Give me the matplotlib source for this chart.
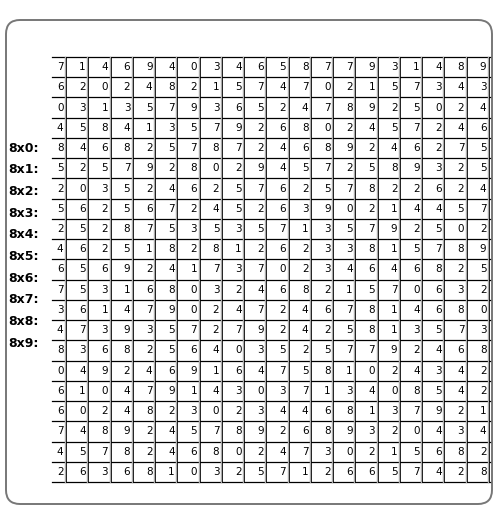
import matplotlib.pyplot as plt
from matplotlib.patches import FancyBboxPatch

# digit grid, row by row
grid_rows = [
    [7, 1, 4, 6, 9, 4, 0, 3, 4, 6, 5, 8, 7, 7, 9, 3, 1, 4, 8, 9],
    [6, 2, 0, 2, 4, 8, 2, 1, 5, 7, 4, 7, 0, 2, 1, 5, 7, 3, 4, 3],
    [0, 3, 1, 3, 5, 7, 9, 3, 6, 5, 2, 4, 7, 8, 9, 2, 5, 0, 2, 4],
    [4, 5, 8, 4, 1, 3, 5, 7, 9, 2, 6, 8, 0, 2, 4, 5, 7, 2, 4, 6],
    [8, 4, 6, 8, 2, 5, 7, 8, 7, 2, 4, 6, 8, 9, 2, 4, 6, 2, 7, 5],
    [5, 2, 5, 7, 9, 2, 8, 0, 2, 9, 4, 5, 7, 2, 5, 8, 9, 3, 2, 5],
    [2, 0, 3, 5, 2, 4, 6, 2, 5, 7, 6, 2, 5, 7, 8, 2, 2, 6, 2, 4],
    [5, 6, 2, 5, 6, 7, 2, 4, 5, 2, 6, 3, 9, 0, 2, 1, 4, 4, 5, 7],
    [2, 5, 2, 8, 7, 5, 3, 5, 3, 5, 7, 1, 3, 5, 7, 9, 2, 5, 0, 2],
    [4, 6, 2, 5, 1, 8, 2, 8, 1, 2, 6, 2, 3, 3, 8, 1, 5, 7, 8, 9],
    [6, 5, 6, 9, 2, 4, 1, 7, 3, 7, 0, 2, 3, 4, 6, 4, 6, 8, 2, 5],
    [7, 5, 3, 1, 6, 8, 0, 3, 2, 4, 6, 8, 2, 1, 5, 7, 0, 6, 3, 2],
    [3, 6, 1, 4, 7, 9, 0, 2, 4, 7, 2, 4, 6, 7, 8, 1, 4, 6, 8, 0],
    [4, 7, 3, 9, 3, 5, 7, 2, 7, 9, 2, 4, 2, 5, 8, 1, 3, 5, 7, 3],
    [8, 3, 6, 8, 2, 5, 6, 4, 0, 3, 5, 2, 5, 7, 7, 9, 2, 4, 6, 8],
    [0, 4, 9, 2, 4, 6, 9, 1, 6, 4, 7, 5, 8, 1, 0, 2, 4, 3, 4, 2],
    [6, 1, 0, 4, 7, 9, 1, 4, 3, 0, 3, 7, 1, 3, 4, 0, 8, 5, 4, 2],
    [6, 0, 2, 4, 8, 2, 3, 0, 2, 3, 4, 4, 6, 8, 1, 3, 7, 9, 2, 1],
    [7, 4, 8, 9, 2, 4, 5, 7, 8, 9, 2, 6, 8, 9, 3, 2, 0, 4, 3, 4],
    [4, 5, 7, 8, 2, 4, 6, 8, 0, 2, 4, 7, 3, 0, 2, 1, 5, 6, 8, 2],
    [2, 6, 3, 6, 8, 1, 0, 3, 2, 5, 7, 1, 2, 6, 6, 5, 7, 4, 2, 8],
]
side_labels = ["8x0:", "8x1:", "8x2:", "8x3:", "8x4:", "8x5:", "8x6:", "8x7:", "8x8:", "8x9:"]

fig = plt.figure(figsize=(5, 5.24), dpi=100)
ax = fig.add_axes([0, 0, 1, 1])
ax.set_xlim(0, 500)
ax.set_ylim(524, 0)
ax.axis("off")

ax.add_patch(FancyBboxPatch((6, 20), 486, 484, boxstyle="round,pad=0,rounding_size=14",
                            fill=False, edgecolor="#777777", lw=1.4))

n_rows = len(grid_rows)
n_cols = len(grid_rows[0])
top, bottom = 57, 482
row_h = (bottom - top) / n_rows
x_left, x_first, col_w = 52, 66, (489 - 66) / (n_cols - 1)

# horizontal lines
for r in range(n_rows + 1):
    y = top + r * row_h
    ax.plot([x_left, 490], [y, y], color="black", lw=0.9)
# vertical lines (gray shadow + black)
for c in range(n_cols):
    x = x_first + c * col_w
    ax.plot([x - 1, x - 1], [top, bottom], color="#aaaaaa", lw=1.0)
    ax.plot([x, x], [top, bottom], color="black", lw=0.6)

for r, row in enumerate(grid_rows):
    yc = top + (r + 0.5) * row_h
    for c, val in enumerate(row):
        xr = x_first + c * col_w - 2.5
        ax.text(xr, yc, str(val), ha="right", va="center", fontsize=7.5,
                family=["Liberation Sans Narrow", "DejaVu Sans"], color="black")

for i, lab in enumerate(side_labels):
    ax.text(8, 148 + i * 21.7, lab, ha="left", va="center", fontsize=9,
            fontweight="bold", family=["Liberation Sans Narrow", "DejaVu Sans"],
            color="black")

fig.savefig("out.png", dpi=100)
